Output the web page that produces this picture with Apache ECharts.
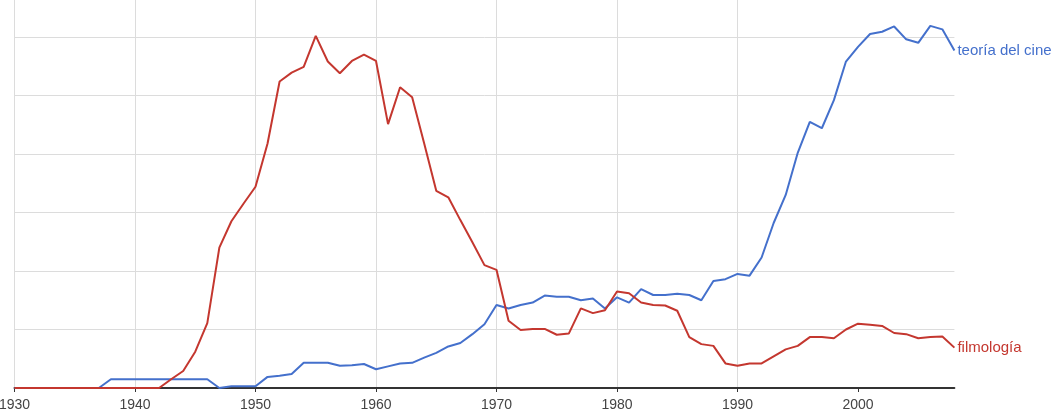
<!DOCTYPE html>
<html>
<head>
<meta charset="utf-8">
<script src="https://cdn.jsdelivr.net/npm/echarts@6/dist/echarts.min.js"></script>
<style>
html,body{margin:0;padding:0;background:#fff;}
#chart{width:1054px;height:417px;}
</style>
</head>
<body>
<div id="chart"></div>
<script>
const years = [1930,1931,1932,1933,1934,1935,1936,1937,1938,1939,1940,1941,1942,1943,1944,1945,1946,1947,1948,1949,1950,1951,1952,1953,1954,1955,1956,1957,1958,1959,1960,1961,1962,1963,1964,1965,1966,1967,1968,1969,1970,1971,1972,1973,1974,1975,1976,1977,1978,1979,1980,1981,1982,1983,1984,1985,1986,1987,1988,1989,1990,1991,1992,1993,1994,1995,1996,1997,1998,1999,2000,2001,2002,2003,2004,2005,2006,2007,2008];
const tickYears = [1930,1940,1950,1960,1970,1980,1990,2000];
const teoria = [0,0,0,0,0,0,0,0,0.15,0.15,0.15,0.15,0.15,0.15,0.15,0.15,0.15,0,0.03,0.03,0.03,0.19,0.21,0.24,0.43,0.43,0.43,0.38,0.39,0.41,0.32,0.37,0.42,0.43,0.52,0.60,0.71,0.77,0.92,1.09,1.42,1.36,1.42,1.46,1.58,1.56,1.56,1.50,1.53,1.36,1.55,1.46,1.69,1.59,1.59,1.61,1.59,1.50,1.83,1.86,1.95,1.92,2.23,2.82,3.30,4.02,4.55,4.44,4.92,5.58,5.83,6.05,6.09,6.18,5.96,5.90,6.19,6.13,5.77];
const filmologia = [0,0,0,0,0,0,0,0,0,0,0,0,0,0.15,0.29,0.62,1.11,2.40,2.85,3.15,3.44,4.18,5.24,5.39,5.49,6.02,5.58,5.38,5.59,5.70,5.59,4.51,5.14,4.97,4.18,3.37,3.26,2.87,2.49,2.10,2.02,1.15,0.99,1.01,1.01,0.91,0.93,1.36,1.28,1.33,1.65,1.62,1.46,1.42,1.41,1.32,0.87,0.75,0.72,0.42,0.38,0.42,0.42,0.54,0.66,0.72,0.87,0.87,0.85,1.00,1.10,1.08,1.06,0.94,0.92,0.85,0.87,0.88,0.69];
const seriesNames = ['teoría del cine','filmología'];
const blue = '#4470cc';
const red = '#c4372f';

const chart = echarts.init(document.getElementById('chart'), null, {renderer:'canvas'});
function pairs(vals){ return years.map((y,i)=>[y, vals[i]]); }
chart.setOption({
  animation:false,
  backgroundColor:'#fff',
  grid:{left:14.5, right:99.6, top:0, bottom:29, containLabel:false, outerBoundsMode:'none'},
  xAxis:{
    type:'value', min:1930, max:2008, interval:10,
    axisLine:{show:true, onZero:false, lineStyle:{color:'#333', width:2}},
    axisTick:{show:true, length:4, inside:false, lineStyle:{color:'#333'}, customValues:tickYears},
    axisLabel:{color:'#444', fontSize:14, fontFamily:'Arial, "Liberation Sans", sans-serif', margin:10, customValues:tickYears, formatter:v=>String(v)},
    splitLine:{show:true, showMaxLine:false, showMinLine:true, lineStyle:{color:'#dcdcdc', width:1}}
  },
  yAxis:{
    type:'value', min:0, max:6.632, interval:1,
    axisLine:{show:false}, axisTick:{show:false}, axisLabel:{show:false},
    splitLine:{show:true, showMaxLine:false, showMinLine:false, lineStyle:{color:'#dcdcdc', width:1}}
  },
  series:[
    {name:seriesNames[0], type:'line', data:pairs(teoria), showSymbol:false, symbol:'none', z:3,
     lineStyle:{color:blue, width:2}, itemStyle:{color:blue},
     endLabel:{show:true, formatter:p=>p.seriesName, color:blue, fontSize:15, fontFamily:'Arial, "Liberation Sans", sans-serif', distance:3}},
    {name:seriesNames[1], type:'line', data:pairs(filmologia), showSymbol:false, symbol:'none', z:4,
     lineStyle:{color:red, width:2}, itemStyle:{color:red},
     endLabel:{show:true, formatter:p=>p.seriesName, color:red, fontSize:15, fontFamily:'Arial, "Liberation Sans", sans-serif', distance:3}}
  ]
});
</script>
</body>
</html>
